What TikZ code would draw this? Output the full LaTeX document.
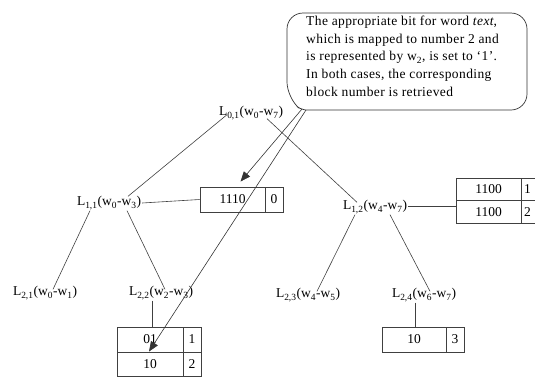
\documentclass[tikz,border=0pt]{standalone}
\usepackage{fontspec}
\setmainfont{Liberation Serif}
\usetikzlibrary{arrows.meta}
\begin{document}
\begin{tikzpicture}[x=1pt,y=-1pt,
  lbl/.style={inner sep=1pt, font=\fontsize{13.5}{15}\selectfont},
  tree/.style={draw=black!75, line width=0.6pt},
  cell/.style={draw=black!75, line width=0.9pt, rectangle, inner sep=0pt, font=\fontsize{13.5}{15}\selectfont},
  pointer/.style={draw=black!80, line width=0.6pt, -{Triangle[length=10pt,width=8pt]}}]
\useasboundingbox (0,0) rectangle (535,378);
% callout
\draw[black!80, line width=0.7pt, rounded corners=16pt] (306,110) -- (527,110) -- (527,13) -- (287,13) -- (287,98) [rounded corners=4pt]-- (300,109) -- (306,110);
\coordinate (tailA) at (302,109);
\coordinate (tailB) at (306,110);
\node[anchor=north west, inner sep=0pt, align=left, font=\addfontfeatures{LetterSpace=3}\fontsize{13.5}{17.6}\selectfont] (note) at (306,16)
 {The appropriate bit for word \textit{text},\\ which is mapped to number 2 and\\ is represented by w\textsubscript{2}, is set to ‘1’.\\ In both cases, the corresponding\\ block number is retrieved};
% tree labels
\node[lbl] (L01) at (251,113) {L\textsubscript{0,1}(w\textsubscript{0}-w\textsubscript{7})};
\node[lbl] (L11) at (109,203) {L\textsubscript{1,1}(w\textsubscript{0}-w\textsubscript{3})};
\node[lbl] (L12) at (375,207) {L\textsubscript{1,2}(w\textsubscript{4}-w\textsubscript{7})};
\node[lbl] (L21) at (45,293) {L\textsubscript{2,1}(w\textsubscript{0}-w\textsubscript{1})};
\node[lbl] (L22) at (161,293) {L\textsubscript{2,2}(w\textsubscript{2}-w\textsubscript{3})};
\node[lbl] (L23) at (308,295) {L\textsubscript{2,3}(w\textsubscript{4}-w\textsubscript{5})};
\node[lbl] (L24) at (424,295) {L\textsubscript{2,4}(w\textsubscript{6}-w\textsubscript{7})};
% boxes
\node[cell, minimum width=65pt, minimum height=25pt] (b1) at (232.5,199.5) {1110};
\node[cell, minimum width=18pt, minimum height=25pt] (b1n) at (274,199.5) {0};
\node[cell, minimum width=65pt, minimum height=22.5pt] (b2a) at (488.5,189.25) {1100};
\node[cell, minimum width=20pt, minimum height=22.5pt, anchor=west] (b2an) at (521,189.25) {\hspace*{-8pt}1};
\node[cell, minimum width=65pt, minimum height=22.5pt] (b2b) at (488.5,211.75) {1100};
\node[cell, minimum width=20pt, minimum height=22.5pt, anchor=west] (b2bn) at (521,211.75) {\hspace*{-8pt}2};
\node[cell, minimum width=66pt, minimum height=25pt] (b3a) at (150,339.5) {01};
\node[cell, minimum width=18pt, minimum height=25pt] (b3an) at (192,339.5) {1};
\node[cell, minimum width=66pt, minimum height=24pt] (b3b) at (150,364) {10};
\node[cell, minimum width=18pt, minimum height=24pt] (b3bn) at (192,364) {2};
\node[cell, minimum width=64pt, minimum height=25pt] (b4) at (414,339.5) {10};
\node[cell, minimum width=18pt, minimum height=25pt] (b4n) at (455,339.5) {3};
% tree edges
\draw[tree] ([xshift=-24pt,yshift=6pt]L01.south) -- ([xshift=19pt,yshift=-1pt]L11.north);
\draw[tree] ([xshift=16pt,yshift=2pt]L01.south) -- ([xshift=-18pt,yshift=-3pt]L12.north);
\draw[tree] ([xshift=-19pt]L11.south) -- ([xshift=8pt,yshift=-4pt]L21.north);
\draw[tree] ([xshift=18pt]L11.south) -- ([xshift=4pt,yshift=-4pt]L22.north);
\draw[tree] ([xshift=-20pt]L12.south) -- ([xshift=9pt,yshift=-4pt]L23.north);
\draw[tree] ([xshift=15pt]L12.south) -- ([xshift=6pt,yshift=-4pt]L24.north);
\draw[tree] (L11.east) -- (b1.west);
\draw[tree] ([yshift=1pt]L12.east) -- ([yshift=1pt]L12.east -| b2b.west);
\draw[tree] ([xshift=-9pt]L22.south) -- ([xshift=2pt]b3a.north);
\draw[tree] ([xshift=-9pt]L24.south) -- ([xshift=1pt]b4.north);
% pointers
\coordinate (tipA) at ([xshift=8pt,yshift=5pt]b1.north);
\coordinate (tipB) at ([xshift=-1pt]b3b.north);
\draw[pointer] (tailA) -- (tipA);
\draw[pointer] (tailB) -- (tipB);
\end{tikzpicture}
\end{document}
